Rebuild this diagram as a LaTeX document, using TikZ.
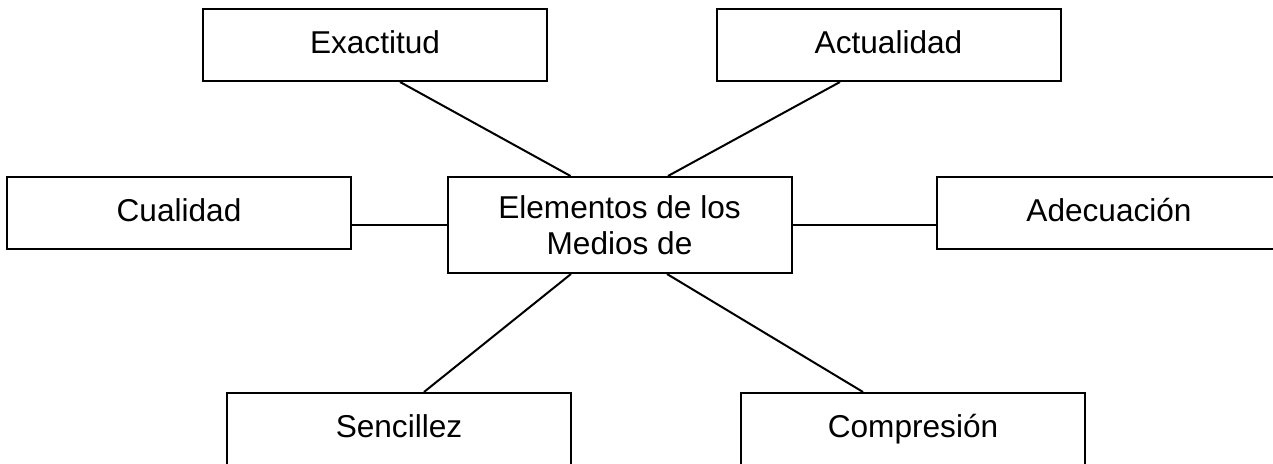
\documentclass[tikz,border=0pt]{standalone}
\usepackage{fontspec}
\setmainfont{Liberation Sans}
\usetikzlibrary{positioning}

\begin{document}
\begin{tikzpicture}[x=1pt,y=1pt,line width=1pt
                   ,caja/.style={draw,rectangle
                                ,minimum width=172pt,minimum height=36pt
                                ,inner sep=0pt,text height=11.5pt,text depth=3pt
                                ,font=\fontsize{15.8pt}{18pt}\selectfont}
                   ,centro/.style={draw,rectangle,align=center
                                ,minimum width=172pt,minimum height=48pt
                                ,inner sep=0pt
                                ,font=\fontsize{15.8pt}{18pt}\selectfont}]
\useasboundingbox (0,0) rectangle (636.5,232);
\clip (0,0) rectangle (636.5,232);
  \node[centro] (elem) at (309.75,119.5) {Elementos de los\\Medios de};
  \node[caja] (exac) at (187.5,209.5) {Exactitud};
  \node[caja] (actu) at (444.25,209.5) {Actualidad};
  \node[caja] (cual) at (89.5,125.5) {Cualidad};
  \node[caja] (adec) at (554.5,125.5) {Adecuación};
  \node[caja] (senc) at (199.5,17.5) {Sencillez};
  \node[caja] (comp) at (456.5,17.5) {Compresión};
  \path
    ([xshift=12.5pt]exac.south) edge ([xshift=-24.5pt]elem.north)
    ([xshift=-24.25pt]actu.south) edge ([xshift=24.25pt]elem.north)
    (elem.west) edge (elem.west -| cual.east)
    (elem.east) edge (elem.east -| adec.west)
    ([xshift=-24.25pt]elem.south) edge ([xshift=12.5pt]senc.north)
    ([xshift=23.75pt]elem.south) edge ([xshift=-25pt]comp.north)
    ;
\end{tikzpicture}
\end{document}
